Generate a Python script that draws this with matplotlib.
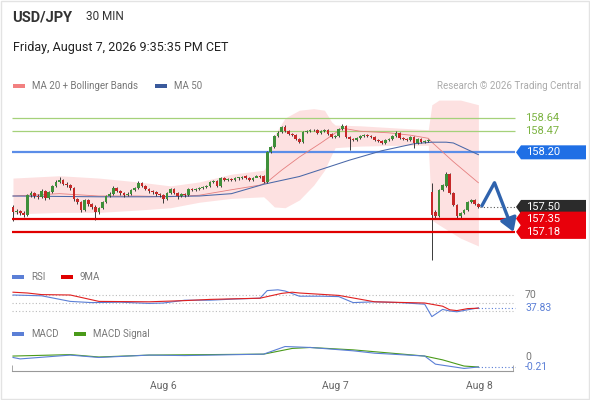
import matplotlib
matplotlib.use("Agg")
import matplotlib.pyplot as plt
from matplotlib.patches import Polygon, Rectangle

plt.rcParams['font.family'] = ['Roboto', 'DejaVu Sans']

# 30 min candles, index 0 = first candle on screen =====================
opens = [157.50, 157.43, 157.45, 157.42, 157.40, 157.65, 157.68, 157.64, 157.63, 157.70,
         157.61, 157.69, 157.77, 157.82, 157.85, 157.79, 157.78, 157.74, 157.60, 157.56,
         157.46, 157.59, 157.54, 157.50, 157.43, 157.49, 157.56, 157.64, 157.67, 157.74,
         157.70, 157.68, 157.65, 157.67, 157.72, 157.74, 157.81, 157.77, 157.73, 157.70,
         157.69, 157.67, 157.65, 157.60, 157.68, 157.73, 157.68, 157.64, 157.67, 157.65,
         157.73, 157.72, 157.73, 157.74, 157.76, 157.77, 157.82, 157.83, 157.77, 157.87,
         157.85, 157.86, 157.85, 157.87, 157.87, 157.90, 157.87, 157.85, 157.87, 157.90,
         157.90, 157.82, 158.20, 158.27, 158.41, 158.46, 158.52, 158.47, 158.43, 158.42,
         158.37, 158.33, 158.46, 158.47, 158.49, 158.49, 158.45, 158.47, 158.49, 158.43,
         158.40, 158.41, 158.50, 158.54, 158.40, 158.37, 158.36, 158.38, 158.41, 158.42,
         158.41, 158.40, 158.36, 158.35, 158.32, 158.36, 158.37, 158.41, 158.45, 158.38,
         158.37, 158.36, 158.40, 158.32, 158.37, 158.33, 158.35, 157.69, 157.43, 157.38,
         157.72, 157.77, 157.92, 157.68, 157.52, 157.38, 157.42, 157.46, 157.56, 157.59,
         157.54]
closes = [157.43, 157.45, 157.42, 157.40, 157.65, 157.68, 157.64, 157.63, 157.70, 157.61,
          157.69, 157.77, 157.82, 157.85, 157.79, 157.78, 157.74, 157.60, 157.56, 157.46,
          157.59, 157.54, 157.50, 157.43, 157.49, 157.56, 157.64, 157.67, 157.74, 157.70,
          157.68, 157.65, 157.67, 157.72, 157.74, 157.81, 157.77, 157.73, 157.70, 157.69,
          157.67, 157.65, 157.60, 157.68, 157.73, 157.68, 157.64, 157.67, 157.65, 157.73,
          157.72, 157.73, 157.74, 157.76, 157.77, 157.82, 157.83, 157.77, 157.87, 157.85,
          157.86, 157.85, 157.87, 157.88, 157.88, 157.87, 157.85, 157.87, 157.90, 157.88,
          157.82, 158.20, 158.27, 158.41, 158.45, 158.52, 158.47, 158.43, 158.42, 158.37,
          158.33, 158.46, 158.47, 158.49, 158.48, 158.45, 158.47, 158.49, 158.43, 158.40,
          158.41, 158.50, 158.54, 158.40, 158.37, 158.36, 158.38, 158.41, 158.42, 158.41,
          158.40, 158.36, 158.35, 158.32, 158.36, 158.37, 158.41, 158.45, 158.38, 158.37,
          158.36, 158.40, 158.32, 158.37, 158.33, 158.35, 158.36, 157.40, 157.38, 157.72,
          157.78, 157.92, 157.68, 157.52, 157.38, 157.42, 157.46, 157.56, 157.59, 157.54,
          157.50]
highs = [157.52, 157.47, 157.46, 157.45, 157.67, 157.70, 157.69, 157.67, 157.73, 157.72,
         157.70, 157.78, 157.85, 157.88, 157.86, 157.82, 157.79, 157.76, 157.61, 157.58,
         157.60, 157.60, 157.55, 157.52, 157.50, 157.58, 157.65, 157.69, 157.77, 157.76,
         157.72, 157.69, 157.69, 157.73, 157.76, 157.83, 157.82, 157.78, 157.74, 157.72,
         157.70, 157.68, 157.67, 157.69, 157.74, 157.74, 157.69, 157.68, 157.68, 157.74,
         157.74, 157.74, 157.76, 157.77, 157.78, 157.83, 157.85, 157.85, 157.88, 157.88,
         157.87, 157.87, 157.88, 157.89, 157.90, 157.91, 157.88, 157.88, 157.91, 157.91,
         157.91, 158.22, 158.28, 158.42, 158.47, 158.54, 158.55, 158.49, 158.45, 158.43,
         158.38, 158.47, 158.49, 158.50, 158.50, 158.50, 158.49, 158.50, 158.50, 158.45,
         158.42, 158.51, 158.56, 158.55, 158.41, 158.38, 158.40, 158.42, 158.43, 158.43,
         158.42, 158.41, 158.37, 158.36, 158.37, 158.38, 158.42, 158.47, 158.46, 158.40,
         158.38, 158.41, 158.41, 158.38, 158.38, 158.36, 158.37, 157.81, 157.46, 157.73,
         157.79, 157.95, 157.94, 157.69, 157.54, 157.44, 157.47, 157.58, 157.60, 157.60,
         157.55]
lows = [157.32, 157.41, 157.40, 157.37, 157.38, 157.63, 157.61, 157.60, 157.61, 157.59,
        157.60, 157.68, 157.76, 157.81, 157.78, 157.76, 157.72, 157.58, 157.54, 157.43,
        157.45, 157.51, 157.47, 157.33, 157.41, 157.47, 157.55, 157.63, 157.65, 157.69,
        157.65, 157.63, 157.64, 157.65, 157.70, 157.73, 157.76, 157.72, 157.68, 157.67,
        157.64, 157.63, 157.55, 157.59, 157.67, 157.67, 157.60, 157.63, 157.63, 157.64,
        157.70, 157.70, 157.72, 157.73, 157.74, 157.76, 157.81, 157.76, 157.76, 157.83,
        157.83, 157.83, 157.83, 157.85, 157.86, 157.86, 157.83, 157.83, 157.88, 157.87,
        157.81, 157.81, 158.19, 158.26, 158.40, 158.45, 158.46, 158.42, 158.41, 158.36,
        158.32, 158.32, 158.45, 158.46, 158.47, 158.43, 158.43, 158.46, 158.42, 158.38,
        158.38, 158.40, 158.49, 158.38, 158.23, 158.35, 158.35, 158.37, 158.40, 158.40,
        158.38, 158.35, 158.33, 158.31, 158.31, 158.35, 158.36, 158.40, 158.37, 158.36,
        158.35, 158.35, 158.26, 158.31, 158.32, 158.32, 158.33, 156.82, 157.36, 157.37,
        157.70, 157.76, 157.67, 157.51, 157.36, 157.36, 157.41, 157.45, 157.55, 157.52,
        157.49]

date_ticks = [42, 90, 130.4]
date_labels = ['Aug 6', 'Aug 7', 'Aug 8']

# Bollinger band (MA 20) and moving averages
band_idx = [0, 13, 24, 35, 44, 52, 61, 70, 71, 73, 76, 80, 84, 87, 89, 90, 97, 108, 116,
            117, 119, 125, 130]
band_upper = [157.87, 157.90, 157.87, 157.82, 157.77, 157.82, 157.92, 157.97, 158.04,
              158.42, 158.64, 158.74, 158.76, 158.74, 158.59, 158.55, 158.54, 158.51,
              158.49, 158.81, 158.87, 158.87, 158.81]
band_lower = [157.41, 157.43, 157.43, 157.46, 157.49, 157.56, 157.61, 157.63, 157.59,
              157.50, 157.49, 157.59, 157.78, 157.97, 158.17, 158.26, 158.28, 158.29,
              158.29, 157.33, 157.27, 157.10, 157.00]
ma20_idx = [0, 13, 24, 35, 44, 52, 61, 69, 71, 75, 80, 86, 92, 97, 105, 111, 116, 117, 123, 130]
ma20 = [157.64, 157.67, 157.64, 157.64, 157.63, 157.65, 157.72, 157.78, 157.82, 157.97,
        158.14, 158.32, 158.51, 158.47, 158.45, 158.42, 158.38, 158.33, 158.08, 157.81]
ma50_idx = [0, 24, 38, 52, 61, 70, 80, 94, 103, 112, 117, 121, 123, 130]
ma50 = [157.64, 157.63, 157.63, 157.64, 157.67, 157.79, 157.89, 158.10, 158.22, 158.31,
        158.33, 158.33, 158.32, 158.17]

resistances = [158.64, 158.47]
pivot = 158.20
supports = [157.35, 157.18]
last_price = 157.50
forecast_idx = [130.8, 134.5, 139.8]
forecast_price = [157.50, 157.81, 157.18]

# RSI panel
rsi_idx = [0, 8, 16, 22, 30, 38, 42, 48, 55, 62, 69, 71, 74, 76, 80, 86, 91, 95, 101, 108,
           115, 117, 120, 122, 124, 127, 130]
rsi = [70, 68, 54, 51, 52, 49, 50, 57, 57, 60, 62, 81, 83, 80, 67, 67, 66, 51, 53, 51,
       47, 16, 34, 30, 28, 33, 37.83]
rsi_ma_idx = [0, 4, 8, 16, 24, 38, 48, 55, 69, 75, 78, 80, 91, 101, 115, 120, 122, 124, 127, 130]
rsi_ma = [77, 75, 71, 70, 54, 53, 56, 59, 62, 74, 77, 75, 69, 53, 50, 42, 33, 31, 36, 37]
rsi_levels = [70, 50, 30]
rsi_last = 37.83

# MACD panel
macd_idx = [0, 2, 16, 24, 38, 48, 70, 76, 83, 95, 101, 115, 118, 126, 130]
macd = [-0.01, -0.04, 0.04, -0.01, 0.04, 0.03, 0.06, 0.22, 0.20, 0.13, 0.08, 0.02,
        -0.15, -0.24, -0.21]
signal_idx = [0, 16, 24, 38, 70, 78, 83, 95, 115, 120, 126, 130]
signal = [0.02, 0.05, 0.00, 0.04, 0.06, 0.18, 0.20, 0.15, 0.02, -0.06, -0.19, -0.21]
macd_last = -0.21

# colours
GREEN_C = '#3f8f3a'
RED_C = '#c62828'
BLUE_L = '#5b7fd6'
GRID = '#bbbbbb'

# Layout: everything placed in pixels of a 590x400 picture ===============
W, H = 590, 400


def px2i(px):
    return (px - 13) / 3.58


fig = plt.figure(figsize=(W / 100, H / 100), dpi=100)
fig.patch.set_facecolor('white')

# overlay for header texts and legends (pixel coordinates)
lay = fig.add_axes([0, 0, 1, 1])
lay.set_xlim(0, W)
lay.set_ylim(H, 0)
lay.axis('off')
lay.add_patch(Rectangle((1, 1), W - 2, H - 2, fill=False, ec='#e3e3e3', lw=1))
lay.text(12, 17, 'USD/JPY', fontsize=10.5, fontweight='bold', color='#333333', va='center')
lay.text(86, 17, '30 MIN', fontsize=8.5, color='#333333', va='center')
lay.text(13, 48, 'Friday, August 7, 2026 9:35:35 PM CET', fontsize=9, color='#222222', va='center')


def legend_item(x, y, color, label):
    lay.add_patch(Rectangle((x, y - 2), 12, 4, color=color, lw=0))
    lay.text(x + 19, y, label, fontsize=7, color='#777777', va='center')


legend_item(13, 86, '#f28080', 'MA 20 + Bollinger Bands')
legend_item(155, 86, '#3a5a9c', 'MA 50')
lay.text(581, 86, 'Research \u00a9 2026 Trading Central', fontsize=7, color='#aaaaaa',
         va='center', ha='right')
legend_item(12, 277, BLUE_L, 'RSI')
legend_item(61, 277, '#e00000', '9MA')
legend_item(12, 334, BLUE_L, 'MACD')
legend_item(74, 334, '#4a9a1a', 'MACD Signal')


def add_ax(top, bottom, ylim):
    ax = fig.add_axes([0, 1 - bottom / H, 1, (bottom - top) / H])
    ax.set_xlim(px2i(0), px2i(W))
    ax.set_ylim(*ylim)
    ax.patch.set_alpha(0)
    for s in ax.spines.values():
        s.set_visible(False)
    ax.set_xticks([])
    ax.set_yticks([])
    return ax


# Main price chart ====================================================
ax = add_ax(95, 262, (156.794, 158.935))
x_left, x_right = px2i(12), px2i(515)

ax.fill_between(band_idx, band_lower, band_upper, color='#fde1e1', lw=0, zorder=1)
for lv in resistances:
    ax.hlines(lv, x_left, x_right, color='#a5d17a', lw=0.9, zorder=2)
    ax.text(px2i(525), lv, f'{lv:.2f}', color='#7cb342', fontsize=8, va='center')
ax.hlines(pivot, x_left, x_right, color='#5b8de8', lw=1.6, zorder=2)
for lv in supports:
    ax.hlines(lv, x_left, x_right, color='#e00000', lw=1.6, zorder=6)
ax.plot(ma20_idx, ma20, color='#e57f7f', lw=0.6, zorder=3)
ax.plot(ma50_idx, ma50, color='#4a68a8', lw=0.75, zorder=3)

for i, (o, h, l, c) in enumerate(zip(opens, highs, lows, closes)):
    col = GREEN_C if c >= o else RED_C
    ax.vlines(i, l, h, color='#3a3a3a', lw=0.7, zorder=4)
    ax.bar(i, max(abs(c - o), 0.008), bottom=min(o, c), width=0.75, color=col, lw=0, zorder=5)

ax.hlines(last_price, len(closes) - 0.5, px2i(515), color='#555555', lw=0.8,
          linestyles=(0, (1, 2)), zorder=3)

# forecast arrow
ax.plot(forecast_idx[:2], forecast_price[:2], color='#2f63ad', lw=2.4,
        solid_capstyle='butt', zorder=7)
ax.annotate('', xy=(forecast_idx[2], forecast_price[2]),
            xytext=(forecast_idx[1], forecast_price[1]),
            arrowprops=dict(arrowstyle='-|>,head_length=0.8,head_width=0.5',
                            color='#2f63ad', lw=2.4, shrinkA=0, shrinkB=0), zorder=7)


def tag(ax, y, text, color, hh):
    tip, x1, x2 = px2i(516), px2i(521), px2i(586)
    ax.add_patch(Polygon([(tip, y), (x1, y + hh), (x2, y + hh), (x2, y - hh), (x1, y - hh)],
                         closed=True, color=color, lw=0, clip_on=False, zorder=8))
    ax.text(px2i(526), y, text, color='white', fontsize=8, va='center', zorder=9, clip_on=False)


hh = 7 / 78
tag(ax, pivot, f'{pivot:.2f}', '#1f6fe5', hh)
tag(ax, last_price, f'{last_price:.2f}', '#2b2b2b', hh)
for lv in supports:
    tag(ax, lv, f'{lv:.2f}', '#e8000b', hh)

# RSI panel ===========================================================
rx = add_ax(283, 320, (7.5, 100))
for lv in rsi_levels:
    rx.hlines(lv, px2i(12), px2i(513), color=GRID, lw=0.8, linestyles=(0, (1, 2)))
rx.plot(rsi_idx, rsi, color=BLUE_L, lw=0.8)
rx.plot(rsi_ma_idx, rsi_ma, color='#e02020', lw=0.8)
rx.hlines(rsi_last, rsi_idx[-1], px2i(515), color=BLUE_L, lw=0.8, linestyles=(0, (1, 2)))
rx.text(px2i(525), 70, '70', color='#777777', fontsize=7.5, va='center')
rx.text(px2i(525), rsi_last, f'{rsi_last:.2f}', color=BLUE_L, fontsize=7.5, va='center')

# MACD panel ==========================================================
mx = add_ax(340, 371, (-0.294, 0.357))
mx.plot(signal_idx, signal, color='#4a9a1a', lw=0.8)
mx.plot(macd_idx, macd, color=BLUE_L, lw=0.8)
mx.hlines(macd_last, macd_idx[-1], px2i(515), color=BLUE_L, lw=0.8, linestyles=(0, (1, 2)))
mx.text(px2i(525), 0, '0', color='#777777', fontsize=7.5, va='center')
mx.text(px2i(525), macd_last, f'{macd_last:.2f}', color=BLUE_L, fontsize=7.5, va='center')

# time axis
mx.spines['bottom'].set_visible(True)
mx.spines['bottom'].set_color('#999999')
mx.spines['bottom'].set_bounds(px2i(12), px2i(513))
mx.set_xticks(date_ticks)
mx.set_xticklabels(date_labels, fontsize=7.5, color='#666666')
mx.set_xticks([px2i(12), px2i(513)], minor=True)
mx.tick_params(axis='x', which='major', length=0, pad=7)
mx.tick_params(axis='x', which='minor', direction='in', length=4, color='#999999')

fig.savefig('out.png', dpi=100)
